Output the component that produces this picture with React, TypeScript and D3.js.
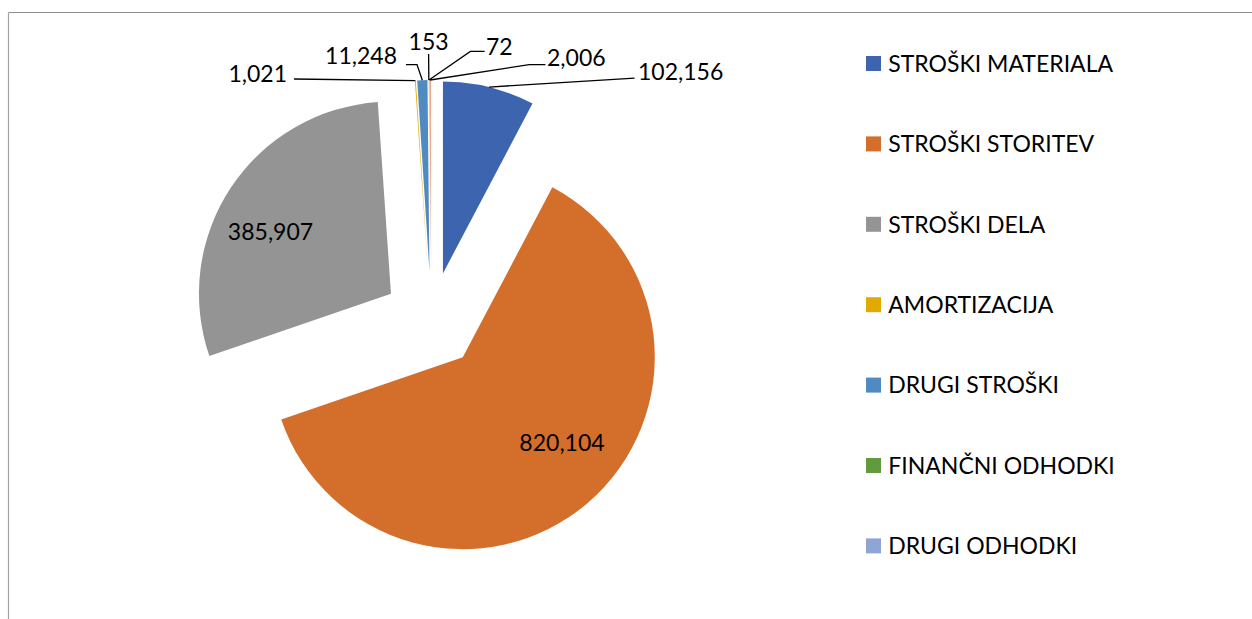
import React from "react";
import * as d3 from "d3";

// ---- data ----
const categories = [
  "STROŠKI MATERIALA",
  "STROŠKI STORITEV",
  "STROŠKI DELA",
  "AMORTIZACIJA",
  "DRUGI STROŠKI",
  "FINANČNI ODHODKI",
  "DRUGI ODHODKI",
  "",
];
const values = [102156, 820104, 385907, 1021, 11248, 153, 72, 2006];
const colors = [
  "#3D65AF",
  "#D46F2B",
  "#949494",
  "#E2AA00",
  "#4F8AC0",
  "#629B3E",
  "#8FA5D6",
  "#EFA98C",
];

// ---- layout ----
const W = 1252;
const H = 619;
const CX = 431.3;
const CY = 320.4;
const R = 192;
const EXPLODE = 48.4;
const FONT = "Lato, 'Noto Sans', sans-serif";
const FS = 23;

type LabelPos = {
  x: number;
  y: number; // baseline
  anchor: "start" | "middle" | "end";
  leader?: [number, number][]; // elbow + attach points (after arc point)
};

const labelLayout: LabelPos[] = [
  { x: 638, y: 80, anchor: "start", leader: [[634.6, 78.2]] },
  { x: 562, y: 450.6, anchor: "middle" },
  { x: 270.5, y: 240.3, anchor: "middle" },
  { x: 287, y: 82, anchor: "end", leader: [[294, 79]] },
  { x: 397, y: 64, anchor: "end", leader: [[417, 64.6], [406, 64.6]] },
  { x: 428.6, y: 49.7, anchor: "middle", leader: [[428.6, 54]] },
  { x: 486, y: 55, anchor: "start", leader: [[470.4, 51.4], [484.6, 51.4]] },
  { x: 547, y: 66, anchor: "start", leader: [[529.3, 64.6], [545.4, 64.6]] },
];

const fmt = d3.format(",");

export default function App() {
  const pie = d3
    .pie<number>()
    .sort(null)
    .startAngle(0)
    .endAngle(2 * Math.PI)
    .value((d) => d);
  const arcs = pie(values);
  const arcGen = d3.arc<d3.PieArcDatum<number>>().innerRadius(0).outerRadius(R);
  const line = d3.line();

  const legendItems = categories
    .map((c, i) => ({ c, i }))
    .filter((d) => d.c !== "");

  return (
    <svg
      width={W}
      height={H}
      style={{ position: "absolute", left: 0, top: 0, background: "#fff" }}
    >
      <rect x={0} y={0} width={W} height={H} fill="#fff" />
      <line x1={8.5} y1={12.5} x2={W} y2={12.5} stroke="#8E8E8E" strokeWidth={1} />
      <line x1={8.5} y1={12.5} x2={8.5} y2={H} stroke="#A3A3A3" strokeWidth={1.2} />

      {arcs.map((a, i) => {
        const mid = (a.startAngle + a.endAngle) / 2;
        const dx = EXPLODE * Math.sin(mid);
        const dy = -EXPLODE * Math.cos(mid);
        return (
          <path
            key={i}
            d={arcGen(a) || ""}
            transform={`translate(${CX + dx},${CY + dy})`}
            fill={colors[i]}
          />
        );
      })}

      {arcs.map((a, i) => {
        const lp = labelLayout[i];
        if (!lp.leader) return null;
        const mid = (a.startAngle + a.endAngle) / 2;
        const rr = R + EXPLODE;
        const p0: [number, number] = [CX + rr * Math.sin(mid), CY - rr * Math.cos(mid)];
        return (
          <path
            key={"l" + i}
            d={line([p0, ...lp.leader]) || ""}
            fill="none"
            stroke="#000"
            strokeWidth={1.3}
          />
        );
      })}

      {arcs.map((a, i) => {
        const lp = labelLayout[i];
        return (
          <text
            key={"t" + i}
            x={lp.x}
            y={lp.y}
            textAnchor={lp.anchor}
            fontFamily={FONT}
            fontSize={FS}
            fill="#000"
          >
            {fmt(values[i])}
          </text>
        );
      })}

      {legendItems.map(({ c, i }, k) => {
        const cy = 63.5 + k * 80.4;
        return (
          <g key={"lg" + i}>
            <rect x={866} y={cy - 7.5} width={15} height={15} fill={colors[i]} />
            <text
              x={888.3}
              y={cy + 8.2}
              fontFamily={FONT}
              fontSize={FS}
              fill="#000"
            >
              {c}
            </text>
          </g>
        );
      })}
    </svg>
  );
}
